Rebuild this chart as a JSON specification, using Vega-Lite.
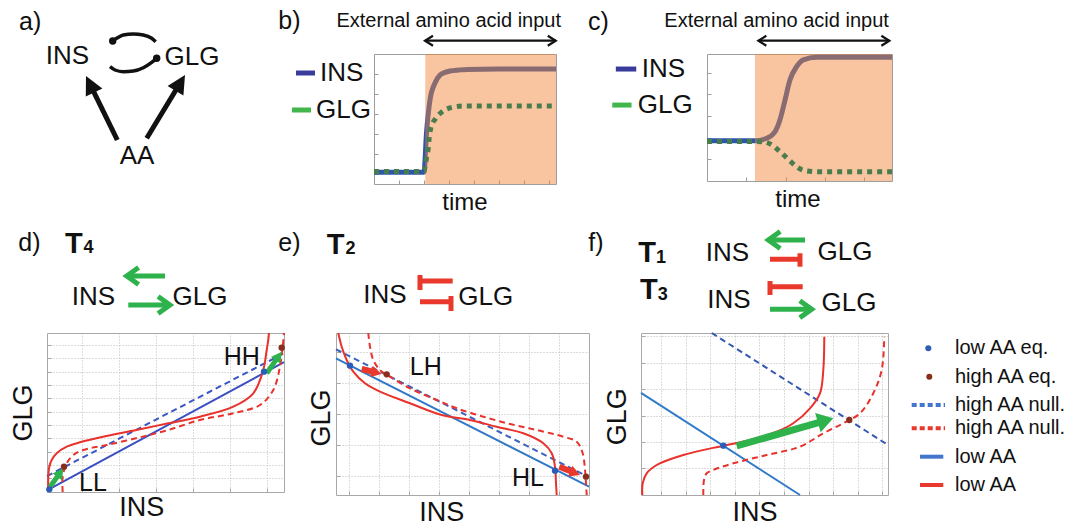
{
"$schema": "https://vega.github.io/schema/vega-lite/v6.json",
"padding": 0,
"background": "white",
"config": {"view": {"stroke": null}, "font": "Liberation Sans"},
"bounds": "flush",
"spacing": 333,
"vconcat": [
 {
  "bounds": "flush", "spacing": 151,
  "hconcat": [
   {
    "width": 223, "height": 184,
    "encoding": {
     "x": {"field": "x", "type": "quantitative", "scale": {"domain": [0, 11.15], "nice": false, "zero": false}, "axis": null},
     "y": {"field": "y", "type": "quantitative", "scale": {"domain": [0, 9.2], "nice": false, "zero": false}, "axis": null}
    },
    "layer": [
     {"data": {"values": [{"x": 0.95, "y": 8.1, "t": "a)"}]}, "mark": {"type": "text", "align": "left", "baseline": "middle", "fontSize": 25, "color": "#111"}, "encoding": {"text": {"field": "t", "type": "nominal"}}},
     {"data": {"values": [{"x": 3.375, "y": 6.425, "t": "INS"}, {"x": 9.6, "y": 6.35, "t": "GLG"}, {"x": 6.85, "y": 1.4, "t": "AA"}]}, "mark": {"type": "text", "align": "center", "baseline": "middle", "fontSize": 26, "color": "#111"}, "encoding": {"text": {"field": "t", "type": "nominal"}}},
     {"data": {"values": [
       {"g": "u", "i": 0, "x": 5.635, "y": 7.15}, {"g": "u", "i": 1, "x": 5.835, "y": 7.285}, {"g": "u", "i": 2, "x": 6.165, "y": 7.45}, {"g": "u", "i": 3, "x": 6.665, "y": 7.5}, {"g": "u", "i": 4, "x": 7.165, "y": 7.45}, {"g": "u", "i": 5, "x": 7.585, "y": 7.285}, {"g": "u", "i": 6, "x": 7.785, "y": 7.115},
       {"g": "l", "i": 0, "x": 5.5, "y": 5.865}, {"g": "l", "i": 1, "x": 5.75, "y": 5.7}, {"g": "l", "i": 2, "x": 6.165, "y": 5.615}, {"g": "l", "i": 3, "x": 6.665, "y": 5.65}, {"g": "l", "i": 4, "x": 7.165, "y": 5.815}, {"g": "l", "i": 5, "x": 7.585, "y": 6.085}, {"g": "l", "i": 6, "x": 7.835, "y": 6.285}]},
      "mark": {"type": "line", "interpolate": "monotone", "color": "#111", "strokeWidth": 3.5},
      "encoding": {"detail": {"field": "g", "type": "nominal"}, "order": {"field": "i", "type": "quantitative"}}},
     {"data": {"values": [{"x": 5.635, "y": 7.15}, {"x": 7.835, "y": 6.285}]}, "mark": {"type": "point", "filled": true, "color": "#111", "size": 55, "opacity": 1}},
     {"data": {"values": [{"x": 5.865, "y": 2.2, "x2": 4.565, "y2": 4.86}, {"x": 7.335, "y": 2.285, "x2": 8.94, "y2": 4.935}]}, "mark": {"type": "rule", "color": "#111", "strokeWidth": 5}, "encoding": {"x2": {"field": "x2"}, "y2": {"field": "y2"}}},
     {"data": {"values": [{"x": 4.3, "y": 5.4}]}, "mark": {"type": "point", "shape": "M0,0L-2,-1L-2,1Z", "filled": true, "color": "#111", "size": 340, "angle": -116, "opacity": 1}},
     {"data": {"values": [{"x": 9.25, "y": 5.45}]}, "mark": {"type": "point", "shape": "M0,0L-2,-1L-2,1Z", "filled": true, "color": "#111", "size": 340, "angle": -59, "opacity": 1}}
    ]
   },
   {"bounds": "flush", "spacing": 0, "vconcat": [
     {"width": 10, "height": 54, "data": {"values": []}, "mark": "point"},
     {"bounds": "flush", "spacing": 151, "hconcat": [
      {
       "width": 182, "height": 130,
       "view": {"stroke": "#9d9d9d"},
       "encoding": {
        "x": {"field": "x", "type": "quantitative", "scale": {"domain": [0, 7.28], "nice": false, "zero": false},
              "axis": {"values": [1,2,3,4,5,6,7], "labels": false, "title": null, "domain": false, "grid": false, "tickSize": -4, "tickColor": "#9d9d9d"}},
        "y": {"field": "y", "type": "quantitative", "scale": {"domain": [-0.5, 6], "nice": false, "zero": false},
              "axis": {"values": [0,1,2,3,4,5], "labels": false, "title": null, "domain": false, "grid": false, "tickSize": -4, "tickColor": "#9d9d9d"}}
       },
       "layer": [
        {"data": {"values": [{"i":0,"x":0,"y":0.09},{"i":1,"x":2.0,"y":0.09},{"i":2,"x":2.1,"y":2.05},{"i":3,"x":2.24,"y":3.7},{"i":4,"x":2.44,"y":4.55},{"i":5,"x":2.64,"y":4.95},{"i":6,"x":2.84,"y":5.08},{"i":7,"x":3.04,"y":5.15},{"i":8,"x":3.4,"y":5.2},{"i":9,"x":3.72,"y":5.23},{"i":10,"x":5,"y":5.25},{"i":11,"x":7.28,"y":5.25}]},
         "mark": {"type": "line", "interpolate": "monotone", "color": "#2c57a9", "strokeWidth": 5},
         "encoding": {"order": {"field": "i", "type": "quantitative"}}},
        {"data": {"values": [{"x": 2.05, "x2": 7.28, "y": -0.5, "y2": 6}]}, "mark": {"type": "rect", "color": "#f28235", "opacity": 0.47}, "encoding": {"x2": {"field": "x2"}, "y2": {"field": "y2"}}},
        {"data": {"values": [{"i":0,"x":0,"y":0.125},{"i":1,"x":2.0,"y":0.125},{"i":2,"x":2.04,"y":0.37},{"i":3,"x":2.11,"y":0.87},{"i":4,"x":2.17,"y":1.28},{"i":5,"x":2.21,"y":1.83},{"i":6,"x":2.28,"y":2.33},{"i":7,"x":2.47,"y":2.78},{"i":8,"x":2.71,"y":3.1},{"i":9,"x":3.11,"y":3.33},{"i":10,"x":3.56,"y":3.4},{"i":11,"x":7.28,"y":3.4}]},
         "mark": {"type": "line", "interpolate": "monotone", "color": "#4a7d4d", "strokeWidth": 5, "strokeDash": [5,5]},
         "encoding": {"order": {"field": "i", "type": "quantitative"}}},
        {"data": {"values": [{"x": -3.12, "x2": -2.36, "y": 5.05, "y2": 5.05}]}, "mark": {"type": "rule", "color": "#3a3c9c", "strokeWidth": 5}, "encoding": {"x2": {"field": "x2"}, "y2": {"field": "y2"}}},
        {"data": {"values": [{"x": -3.28, "x2": -2.52, "y": 3.2, "y2": 3.2}]}, "mark": {"type": "rule", "color": "#42b54b", "strokeWidth": 5}, "encoding": {"x2": {"field": "x2"}, "y2": {"field": "y2"}}},
        {"data": {"values": [{"x": -2.16, "y": 5.05, "t": "INS"}, {"x": -2.32, "y": 3.2, "t": "GLG"}]}, "mark": {"type": "text", "align": "left", "baseline": "middle", "fontSize": 26, "color": "#111"}, "encoding": {"text": {"field": "t", "type": "nominal"}}},
        {"data": {"values": [{"x": -3.83, "y": 7.65, "t": "b)"}]}, "mark": {"type": "text", "align": "left", "baseline": "middle", "fontSize": 25, "color": "#111"}, "encoding": {"text": {"field": "t", "type": "nominal"}}},
        {"data": {"values": [{"x": 2.99, "y": 7.66, "t": "External amino acid input"}]}, "mark": {"type": "text", "align": "center", "baseline": "middle", "fontSize": 20, "color": "#111"}, "encoding": {"text": {"field": "t", "type": "nominal"}}},
        {"data": {"values": [{"x": 2.04, "x2": 7.27, "y": 6.665, "y2": 6.665}]}, "mark": {"type": "rule", "color": "#111", "strokeWidth": 2.2}, "encoding": {"x2": {"field": "x2"}, "y2": {"field": "y2"}}},
        {"data": {"values": [{"x": 7.27, "y": 6.665}]}, "mark": {"type": "point", "shape": "M-1.6,-1L0,0L-1.6,1", "filled": false, "color": "#111", "strokeWidth": 2.2, "size": 100, "opacity": 1}},
        {"data": {"values": [{"x": 2.04, "y": 6.665}]}, "mark": {"type": "point", "shape": "M-1.6,-1L0,0L-1.6,1", "filled": false, "color": "#111", "strokeWidth": 2.2, "size": 100, "angle": 180, "opacity": 1}},
        {"data": {"values": [{"x": 3.64, "y": -1.45, "t": "time"}]}, "mark": {"type": "text", "align": "center", "baseline": "middle", "fontSize": 24, "color": "#111"}, "encoding": {"text": {"field": "t", "type": "nominal"}}}
       ]
      },
      {
       "width": 185, "height": 127,
       "view": {"stroke": "#9d9d9d"},
       "encoding": {
        "x": {"field": "x", "type": "quantitative", "scale": {"domain": [0, 4.707], "nice": false, "zero": false},
              "axis": {"values": [1,2,3,4], "labels": false, "title": null, "domain": false, "grid": false, "tickSize": -4, "tickColor": "#9d9d9d"}},
        "y": {"field": "y", "type": "quantitative", "scale": {"domain": [0, 5.853], "nice": false, "zero": false},
              "axis": {"values": [1,2,3,4,5], "labels": false, "title": null, "domain": false, "grid": false, "tickSize": -4, "tickColor": "#9d9d9d"}}
       },
       "layer": [
        {"data": {"values": [{"i":0,"x":0,"y":1.857},{"i":1,"x":1.22,"y":1.857},{"i":2,"x":1.52,"y":1.97},{"i":3,"x":1.73,"y":2.27},{"i":4,"x":1.855,"y":2.81},{"i":5,"x":1.985,"y":3.73},{"i":6,"x":2.11,"y":4.65},{"i":7,"x":2.28,"y":5.27},{"i":8,"x":2.45,"y":5.58},{"i":9,"x":2.79,"y":5.7},{"i":10,"x":4.707,"y":5.7}]},
         "mark": {"type": "line", "interpolate": "monotone", "color": "#2c57a9", "strokeWidth": 5},
         "encoding": {"order": {"field": "i", "type": "quantitative"}}},
        {"data": {"values": [{"x": 1.22, "x2": 4.707, "y": 0, "y2": 5.853}]}, "mark": {"type": "rect", "color": "#f28235", "opacity": 0.47}, "encoding": {"x2": {"field": "x2"}, "y2": {"field": "y2"}}},
        {"data": {"values": [{"i":0,"x":0,"y":1.82},{"i":1,"x":1.2,"y":1.82},{"i":2,"x":1.43,"y":1.81},{"i":3,"x":1.65,"y":1.66},{"i":4,"x":1.86,"y":1.35},{"i":5,"x":2.07,"y":1.0},{"i":6,"x":2.28,"y":0.66},{"i":7,"x":2.49,"y":0.475},{"i":8,"x":2.79,"y":0.43},{"i":9,"x":4.707,"y":0.43}]},
         "mark": {"type": "line", "interpolate": "monotone", "color": "#4a7d4d", "strokeWidth": 5, "strokeDash": [5,5]},
         "encoding": {"order": {"field": "i", "type": "quantitative"}}},
        {"data": {"values": [{"x": -2.32, "x2": -1.8, "y": 5.16, "y2": 5.16}]}, "mark": {"type": "rule", "color": "#3a3c9c", "strokeWidth": 5}, "encoding": {"x2": {"field": "x2"}, "y2": {"field": "y2"}}},
        {"data": {"values": [{"x": -2.41, "x2": -1.92, "y": 3.5, "y2": 3.5}]}, "mark": {"type": "rule", "color": "#42b54b", "strokeWidth": 5}, "encoding": {"x2": {"field": "x2"}, "y2": {"field": "y2"}}},
        {"data": {"values": [{"x": -1.66, "y": 5.16, "t": "INS"}, {"x": -1.76, "y": 3.5, "t": "GLG"}]}, "mark": {"type": "text", "align": "left", "baseline": "middle", "fontSize": 26, "color": "#111"}, "encoding": {"text": {"field": "t", "type": "nominal"}}},
        {"data": {"values": [{"x": -3.03, "y": 7.33, "t": "c)"}]}, "mark": {"type": "text", "align": "left", "baseline": "middle", "fontSize": 25, "color": "#111"}, "encoding": {"text": {"field": "t", "type": "nominal"}}},
        {"data": {"values": [{"x": 1.77, "y": 7.38, "t": "External amino acid input"}]}, "mark": {"type": "text", "align": "center", "baseline": "middle", "fontSize": 20, "color": "#111"}, "encoding": {"text": {"field": "t", "type": "nominal"}}},
        {"data": {"values": [{"x": 1.306, "x2": 4.64, "y": 6.465, "y2": 6.465}]}, "mark": {"type": "rule", "color": "#111", "strokeWidth": 2.2}, "encoding": {"x2": {"field": "x2"}, "y2": {"field": "y2"}}},
        {"data": {"values": [{"x": 4.64, "y": 6.465}]}, "mark": {"type": "point", "shape": "M-1.6,-1L0,0L-1.6,1", "filled": false, "color": "#111", "strokeWidth": 2.2, "size": 100, "opacity": 1}},
        {"data": {"values": [{"x": 1.306, "y": 6.465}]}, "mark": {"type": "point", "shape": "M-1.6,-1L0,0L-1.6,1", "filled": false, "color": "#111", "strokeWidth": 2.2, "size": 100, "angle": 180, "opacity": 1}},
        {"data": {"values": [{"x": 2.315, "y": -0.876, "t": "time"}]}, "mark": {"type": "text", "align": "center", "baseline": "middle", "fontSize": 24, "color": "#111"}, "encoding": {"text": {"field": "t", "type": "nominal"}}}
       ]
      }
     ]}
   ]}
  ]
 },
 {
  "bounds": "flush", "spacing": 0,
  "hconcat": [
   {"width": 47, "height": 162, "data": {"values": []}, "mark": "point"},
   {"bounds": "flush", "spacing": 52, "hconcat": [
    {
     "width": 237, "height": 159,
     "view": {"stroke": "#a8a8a8"},
     "encoding": {
      "x": {"field": "x", "type": "quantitative", "scale": {"domain": [-0.938, 5.468], "nice": false, "zero": false},
            "axis": {"values": [0,1,2,3,4,5], "grid": true, "gridDash": [1,2], "gridColor": "#bbbbbb", "labels": false, "title": null, "domain": false, "tickSize": -4, "tickColor": "#a8a8a8"}},
      "y": {"field": "y", "type": "quantitative", "scale": {"domain": [-1.028, 10.9], "nice": false, "zero": false},
            "axis": {"values": [0,1,2,3,4,5,6,7,8,9,10], "grid": true, "gridDash": [1,2], "gridColor": "#bbbbbb", "labels": false, "title": null, "domain": false, "tickSize": -4, "tickColor": "#a8a8a8"}}
     },
     "layer": [
      {"data": {"values": [{"x": -0.938, "y": -0.9, "x2": 5.468, "y2": 8.71}]}, "mark": {"type": "rule", "color": "#3a4fc2", "strokeWidth": 2}, "encoding": {"x2": {"field": "x2"}, "y2": {"field": "y2"}}},
      {"data": {"values": [{"x": -0.938, "y": 0.17, "x2": 5.468, "y2": 9.38}]}, "mark": {"type": "rule", "color": "#3a55c4", "strokeWidth": 2, "strokeDash": [6,4]}, "encoding": {"x2": {"field": "x2"}, "y2": {"field": "y2"}}},
      {"data": {"values": [{"i":0,"x":-0.903,"y":-1.028},{"i":1,"x":-0.903,"y":0.12},{"i":2,"x":-0.876,"y":0.87},{"i":3,"x":-0.811,"y":1.373},{"i":4,"x":-0.676,"y":1.876},{"i":5,"x":-0.405,"y":2.37},{"i":6,"x":-0.046,"y":2.7},{"i":7,"x":0.676,"y":3.173},{"i":8,"x":1.576,"y":3.676},{"i":9,"x":2.34,"y":4.126},{"i":10,"x":3.195,"y":4.62},{"i":11,"x":4.097,"y":5.371},{"i":12,"x":4.638,"y":6.377},{"i":13,"x":4.908,"y":8.125},{"i":14,"x":5.0,"y":9.625},{"i":15,"x":5.043,"y":10.375},{"i":16,"x":5.062,"y":10.9}]},
       "mark": {"type": "line", "interpolate": "catmull-rom", "color": "#e8322b", "strokeWidth": 2},
       "encoding": {"order": {"field": "i", "type": "quantitative"}}},
      {"data": {"values": [{"i":0,"x":-0.514,"y":-1.028},{"i":1,"x":-0.514,"y":0.12},{"i":2,"x":-0.405,"y":1.125},{"i":3,"x":-0.227,"y":1.748},{"i":4,"x":0.043,"y":2.123},{"i":5,"x":0.676,"y":2.498},{"i":6,"x":1.576,"y":3.076},{"i":7,"x":2.34,"y":3.623},{"i":8,"x":3.195,"y":4.374},{"i":9,"x":4.097,"y":4.876},{"i":10,"x":4.819,"y":5.499},{"i":11,"x":5.178,"y":6.624},{"i":12,"x":5.359,"y":8.372},{"i":13,"x":5.432,"y":9.872},{"i":14,"x":5.468,"y":10.9}]},
       "mark": {"type": "line", "interpolate": "catmull-rom", "color": "#e8322b", "strokeWidth": 2, "strokeDash": [6,4]},
       "encoding": {"order": {"field": "i", "type": "quantitative"}}},
      {"data": {"values": [{"x": -0.857, "y": -0.63, "x2": -0.592, "y2": 0.383}, {"x": 5.0, "y": 7.877, "x2": 5.314, "y2": 9.13}]}, "mark": {"type": "rule", "color": "#2eb24c", "strokeWidth": 5}, "encoding": {"x2": {"field": "x2"}, "y2": {"field": "y2"}}},
      {"data": {"values": [{"x": -0.497, "y": 0.75}, {"x": 5.405, "y": 9.497}]}, "mark": {"type": "point", "shape": "M0,0L-2,-1.1L-2,1.1Z", "filled": true, "color": "#2eb24c", "size": 110, "angle": -55, "opacity": 1}},
      {"data": {"values": [{"x": -0.876, "y": -0.825}, {"x": 4.927, "y": 7.997}]}, "mark": {"type": "point", "filled": true, "color": "#2d5cb8", "size": 40, "opacity": 1}},
      {"data": {"values": [{"x": -0.478, "y": 0.87}, {"x": 5.405, "y": 9.797}]}, "mark": {"type": "point", "filled": true, "color": "#8a2d1c", "size": 40, "opacity": 1}},
      {"data": {"values": [{"x": 0.305, "y": -0.375, "t": "LL"}, {"x": 4.324, "y": 9.12, "t": "HH"}]}, "mark": {"type": "text", "align": "center", "baseline": "middle", "fontSize": 25, "color": "#111"}, "encoding": {"text": {"field": "t", "type": "nominal"}}},
      {"data": {"values": [{"x": -1.56, "y": 4.9, "t": "GLG"}]}, "mark": {"type": "text", "align": "center", "baseline": "middle", "fontSize": 27, "angle": 270, "color": "#111"}, "encoding": {"text": {"field": "t", "type": "nominal"}}},
      {"data": {"values": [{"x": 1.62, "y": -2.23, "t": "INS"}]}, "mark": {"type": "text", "align": "center", "baseline": "middle", "fontSize": 27, "color": "#111"}, "encoding": {"text": {"field": "t", "type": "nominal"}}},
      {"data": {"values": [{"x": -1.714, "y": 17.65, "t": "d)"}]}, "mark": {"type": "text", "align": "left", "baseline": "middle", "fontSize": 25, "color": "#111"}, "encoding": {"text": {"field": "t", "type": "nominal"}}},
      {"data": {"values": [{"x": -0.451, "y": 17.56, "t": "T"}]}, "mark": {"type": "text", "align": "left", "baseline": "middle", "fontSize": 29, "fontWeight": "bold", "color": "#111"}, "encoding": {"text": {"field": "t", "type": "nominal"}}},
      {"data": {"values": [{"x": 0.05, "y": 17.3, "t": "4"}]}, "mark": {"type": "text", "align": "left", "baseline": "middle", "fontSize": 18, "fontWeight": "bold", "color": "#111"}, "encoding": {"text": {"field": "t", "type": "nominal"}}},
      {"data": {"values": [{"x": 0.315, "y": 13.62, "t": "INS"}, {"x": 3.197, "y": 13.62, "t": "GLG"}]}, "mark": {"type": "text", "align": "center", "baseline": "middle", "fontSize": 26, "color": "#111"}, "encoding": {"text": {"field": "t", "type": "nominal"}}},
      {"data": {"values": [{"x": 2.251, "y": 15.18, "x2": 1.27, "y2": 15.18}, {"x": 1.259, "y": 13.0, "x2": 2.33, "y2": 13.0}]}, "mark": {"type": "rule", "color": "#2eb24c", "strokeWidth": 5}, "encoding": {"x2": {"field": "x2"}, "y2": {"field": "y2"}}},
      {"data": {"values": [{"x": 2.386, "y": 13.0}]}, "mark": {"type": "point", "shape": "M-1.4,-1L0,0L-1.4,1", "filled": false, "color": "#2eb24c", "strokeWidth": 5, "size": 289, "opacity": 1}},
      {"data": {"values": [{"x": 1.216, "y": 15.18}]}, "mark": {"type": "point", "shape": "M-1.4,-1L0,0L-1.4,1", "filled": false, "color": "#2eb24c", "strokeWidth": 5, "size": 289, "angle": 180, "opacity": 1}}
     ]
    },
    {
     "width": 253, "height": 162,
     "view": {"stroke": "#a8a8a8"},
     "encoding": {
      "x": {"field": "x", "type": "quantitative", "scale": {"domain": [-0.443, 7.99], "nice": false, "zero": false},
            "axis": {"values": [0,1,2,3,4,5,6,7], "grid": true, "gridDash": [1,2], "gridColor": "#bbbbbb", "labels": false, "title": null, "domain": false, "tickSize": -4, "tickColor": "#a8a8a8"}},
      "y": {"field": "y", "type": "quantitative", "scale": {"domain": [-0.613, 4.613], "nice": false, "zero": false},
            "axis": {"values": [0,1,2,3,4], "grid": true, "gridDash": [1,2], "gridColor": "#bbbbbb", "labels": false, "title": null, "domain": false, "tickSize": -4, "tickColor": "#a8a8a8"}}
     },
     "layer": [
      {"data": {"values": [{"x": -0.443, "y": 3.797, "x2": 7.99, "y2": -0.345}]}, "mark": {"type": "rule", "color": "#2f78c8", "strokeWidth": 2}, "encoding": {"x2": {"field": "x2"}, "y2": {"field": "y2"}}},
      {"data": {"values": [{"x": -0.443, "y": 4.087, "x2": 7.99, "y2": -0.04}]}, "mark": {"type": "rule", "color": "#3a62c0", "strokeWidth": 2, "strokeDash": [6,4]}, "encoding": {"x2": {"field": "x2"}, "y2": {"field": "y2"}}},
      {"data": {"values": [{"i":0,"x":-0.367,"y":4.613},{"i":1,"x":-0.253,"y":4.171},{"i":2,"x":-0.087,"y":3.742},{"i":3,"x":0.133,"y":3.365},{"i":4,"x":0.523,"y":2.99},{"i":5,"x":1.023,"y":2.719},{"i":6,"x":2.023,"y":2.345},{"i":7,"x":3.08,"y":1.968},{"i":8,"x":4.023,"y":1.806},{"i":9,"x":4.913,"y":1.59},{"i":10,"x":5.8,"y":1.377},{"i":11,"x":6.467,"y":1.055},{"i":12,"x":6.747,"y":0.732},{"i":13,"x":6.857,"y":0.3},{"i":14,"x":6.89,"y":-0.235},{"i":15,"x":6.913,"y":-0.613}]},
       "mark": {"type": "line", "interpolate": "catmull-rom", "color": "#e8322b", "strokeWidth": 2},
       "encoding": {"order": {"field": "i", "type": "quantitative"}}},
      {"data": {"values": [{"i":0,"x":0.633,"y":4.613},{"i":1,"x":0.69,"y":4.171},{"i":2,"x":0.8,"y":3.742},{"i":3,"x":1.023,"y":3.419},{"i":4,"x":1.357,"y":3.203},{"i":5,"x":2.023,"y":2.829},{"i":6,"x":2.913,"y":2.452},{"i":7,"x":3.58,"y":2.184},{"i":8,"x":4.467,"y":1.913},{"i":9,"x":5.357,"y":1.677},{"i":10,"x":6.247,"y":1.484},{"i":11,"x":7.133,"y":1.268},{"i":12,"x":7.58,"y":1.106},{"i":13,"x":7.78,"y":0.732},{"i":14,"x":7.857,"y":0.194},{"i":15,"x":7.89,"y":-0.235},{"i":16,"x":7.913,"y":-0.613}]},
       "mark": {"type": "line", "interpolate": "catmull-rom", "color": "#e8322b", "strokeWidth": 2, "strokeDash": [6,4]},
       "encoding": {"order": {"field": "i", "type": "quantitative"}}},
      {"data": {"values": [{"x": 0.413, "y": 3.452, "x2": 0.887, "y2": 3.339}, {"x": 7.0, "y": 0.3, "x2": 7.503, "y2": 0.103}]}, "mark": {"type": "rule", "color": "#e8392c", "strokeWidth": 6}, "encoding": {"x2": {"field": "x2"}, "y2": {"field": "y2"}}},
      {"data": {"values": [{"x": 1.08, "y": 3.29}]}, "mark": {"type": "point", "shape": "M0,0L-2,-1.1L-2,1.1Z", "filled": true, "color": "#e8392c", "size": 110, "angle": 14, "opacity": 1}},
      {"data": {"values": [{"x": 7.69, "y": 0.032}]}, "mark": {"type": "point", "shape": "M0,0L-2,-1.1L-2,1.1Z", "filled": true, "color": "#e8392c", "size": 110, "angle": 22, "opacity": 1}},
      {"data": {"values": [{"x": 0.023, "y": 3.558}, {"x": 6.857, "y": 0.171}]}, "mark": {"type": "point", "filled": true, "color": "#2d5cb8", "size": 40, "opacity": 1}},
      {"data": {"values": [{"x": 1.247, "y": 3.281}, {"x": 7.89, "y": -0.023}]}, "mark": {"type": "point", "filled": true, "color": "#8a2d1c", "size": 40, "opacity": 1}},
      {"data": {"values": [{"x": 2.55, "y": 3.526, "t": "LH"}, {"x": 5.957, "y": -0.065, "t": "HL"}]}, "mark": {"type": "text", "align": "center", "baseline": "middle", "fontSize": 25, "color": "#111"}, "encoding": {"text": {"field": "t", "type": "nominal"}}},
      {"data": {"values": [{"x": -0.91, "y": 1.87, "t": "GLG"}]}, "mark": {"type": "text", "align": "center", "baseline": "middle", "fontSize": 27, "angle": 270, "color": "#111"}, "encoding": {"text": {"field": "t", "type": "nominal"}}},
      {"data": {"values": [{"x": 3.08, "y": -1.19, "t": "INS"}]}, "mark": {"type": "text", "align": "center", "baseline": "middle", "fontSize": 27, "color": "#111"}, "encoding": {"text": {"field": "t", "type": "nominal"}}},
      {"data": {"values": [{"x": -2.367, "y": 7.516, "t": "e)"}]}, "mark": {"type": "text", "align": "left", "baseline": "middle", "fontSize": 25, "color": "#111"}, "encoding": {"text": {"field": "t", "type": "nominal"}}},
      {"data": {"values": [{"x": -0.753, "y": 7.45, "t": "T"}]}, "mark": {"type": "text", "align": "left", "baseline": "middle", "fontSize": 29, "fontWeight": "bold", "color": "#111"}, "encoding": {"text": {"field": "t", "type": "nominal"}}},
      {"data": {"values": [{"x": -0.13, "y": 7.32, "t": "2"}]}, "mark": {"type": "text", "align": "left", "baseline": "middle", "fontSize": 18, "fontWeight": "bold", "color": "#111"}, "encoding": {"text": {"field": "t", "type": "nominal"}}},
      {"data": {"values": [{"x": 1.19, "y": 5.839, "t": "INS"}, {"x": 4.55, "y": 5.784, "t": "GLG"}]}, "mark": {"type": "text", "align": "center", "baseline": "middle", "fontSize": 26, "color": "#111"}, "encoding": {"text": {"field": "t", "type": "nominal"}}},
      {"data": {"values": [{"x": 2.3, "y": 6.29, "x2": 3.447, "y2": 6.29}, {"x": 2.356, "y": 6.0, "x2": 2.356, "y2": 6.484}, {"x": 2.356, "y": 5.623, "x2": 3.413, "y2": 5.623}, {"x": 3.39, "y": 5.323, "x2": 3.39, "y2": 5.806}]}, "mark": {"type": "rule", "color": "#e8392c", "strokeWidth": 5}, "encoding": {"x2": {"field": "x2"}, "y2": {"field": "y2"}}}
     ]
    },
    {
     "width": 247, "height": 162,
     "view": {"stroke": "#a8a8a8"},
     "encoding": {
      "x": {"field": "x", "type": "quantitative", "scale": {"domain": [-0.813, 9.228], "nice": false, "zero": false},
            "axis": {"values": [0,1,2,3,4,5,6,7,8,9], "grid": true, "gridDash": [1,2], "gridColor": "#bbbbbb", "labels": false, "title": null, "domain": false, "tickSize": -4, "tickColor": "#a8a8a8"}},
      "y": {"field": "y", "type": "quantitative", "scale": {"domain": [-1.011, 5.125], "nice": false, "zero": false},
            "axis": {"values": [0,1,2,3,4,5], "grid": true, "gridDash": [1,2], "gridColor": "#bbbbbb", "labels": false, "title": null, "domain": false, "tickSize": -4, "tickColor": "#a8a8a8"}}
     },
     "layer": [
      {"data": {"values": [{"x": -0.813, "y": 2.858, "x2": 5.65, "y2": -1.011}]}, "mark": {"type": "rule", "color": "#2f7ac9", "strokeWidth": 2}, "encoding": {"x2": {"field": "x2"}, "y2": {"field": "y2"}}},
      {"data": {"values": [{"x": 2.061, "y": 5.125, "x2": 9.228, "y2": 0.883}]}, "mark": {"type": "rule", "color": "#3557b4", "strokeWidth": 2, "strokeDash": [6,4]}, "encoding": {"x2": {"field": "x2"}, "y2": {"field": "y2"}}},
      {"data": {"values": [{"i":0,"x":-0.76,"y":-1.011},{"i":1,"x":-0.744,"y":-0.568},{"i":2,"x":-0.581,"y":-0.189},{"i":3,"x":-0.175,"y":0.125},{"i":4,"x":0.907,"y":0.504},{"i":5,"x":2.533,"y":0.856},{"i":6,"x":3.618,"y":1.072},{"i":7,"x":4.703,"y":1.386},{"i":8,"x":5.378,"y":1.705},{"i":9,"x":6.057,"y":2.273},{"i":10,"x":6.463,"y":2.841},{"i":11,"x":6.598,"y":3.723},{"i":12,"x":6.638,"y":4.985}]},
       "mark": {"type": "line", "interpolate": "catmull-rom", "color": "#e8322b", "strokeWidth": 2},
       "encoding": {"order": {"field": "i", "type": "quantitative"}}},
      {"data": {"values": [{"i":0,"x":1.72,"y":-1.011},{"i":1,"x":1.748,"y":-0.443},{"i":2,"x":1.858,"y":-0.189},{"i":3,"x":2.126,"y":-0.064},{"i":4,"x":2.939,"y":0.189},{"i":5,"x":4.297,"y":0.504},{"i":6,"x":5.65,"y":0.818},{"i":7,"x":6.598,"y":1.326},{"i":8,"x":7.411,"y":1.705},{"i":9,"x":8.089,"y":2.083},{"i":10,"x":8.63,"y":2.841},{"i":11,"x":8.972,"y":3.723},{"i":12,"x":9.077,"y":4.985}]},
       "mark": {"type": "line", "interpolate": "catmull-rom", "color": "#e8322b", "strokeWidth": 2, "strokeDash": [6,4]},
       "encoding": {"order": {"field": "i", "type": "quantitative"}}},
      {"data": {"values": [{"x": 3.077, "y": 0.845, "x2": 6.614, "y2": 1.788}]}, "mark": {"type": "rule", "color": "#2eb24c", "strokeWidth": 7}, "encoding": {"x2": {"field": "x2"}, "y2": {"field": "y2"}}},
      {"data": {"values": [{"x": 7.004, "y": 1.894}]}, "mark": {"type": "point", "shape": "M0,0L-2,-1.25L-2,1.25Z", "filled": true, "color": "#2eb24c", "size": 256, "angle": -16, "opacity": 1}},
      {"data": {"values": [{"x": 2.533, "y": 0.856}]}, "mark": {"type": "point", "filled": true, "color": "#2d5cb8", "size": 40, "opacity": 1}},
      {"data": {"values": [{"x": 7.654, "y": 1.83}]}, "mark": {"type": "point", "filled": true, "color": "#8a2d1c", "size": 40, "opacity": 1}},
      {"data": {"values": [{"x": -1.768, "y": 1.955, "t": "GLG"}]}, "mark": {"type": "text", "align": "center", "baseline": "middle", "fontSize": 27, "angle": 270, "color": "#111"}, "encoding": {"text": {"field": "t", "type": "nominal"}}},
      {"data": {"values": [{"x": 3.82, "y": -1.693, "t": "INS"}]}, "mark": {"type": "text", "align": "center", "baseline": "middle", "fontSize": 27, "color": "#111"}, "encoding": {"text": {"field": "t", "type": "nominal"}}},
      {"data": {"values": [{"x": -2.955, "y": 8.534, "t": "f)"}]}, "mark": {"type": "text", "align": "left", "baseline": "middle", "fontSize": 25, "color": "#111"}, "encoding": {"text": {"field": "t", "type": "nominal"}}},
      {"data": {"values": [{"x": -0.923, "y": 8.144, "t": "T"}, {"x": -0.854, "y": 6.754, "t": "T"}]}, "mark": {"type": "text", "align": "left", "baseline": "middle", "fontSize": 29, "fontWeight": "bold", "color": "#111"}, "encoding": {"text": {"field": "t", "type": "nominal"}}},
      {"data": {"values": [{"x": -0.2, "y": 7.97, "t": "1"}, {"x": -0.13, "y": 6.58, "t": "3"}]}, "mark": {"type": "text", "align": "left", "baseline": "middle", "fontSize": 18, "fontWeight": "bold", "color": "#111"}, "encoding": {"text": {"field": "t", "type": "nominal"}}},
      {"data": {"values": [{"x": 2.703, "y": 8.144, "t": "INS"}, {"x": 7.48, "y": 8.205, "t": "GLG"}, {"x": 2.764, "y": 6.375, "t": "INS"}, {"x": 7.642, "y": 6.25, "t": "GLG"}]}, "mark": {"type": "text", "align": "center", "baseline": "middle", "fontSize": 26, "color": "#111"}, "encoding": {"text": {"field": "t", "type": "nominal"}}},
      {"data": {"values": [{"x": 5.854, "y": 8.648, "x2": 4.44, "y2": 8.648}, {"x": 4.431, "y": 6.023, "x2": 6.05, "y2": 6.023}]}, "mark": {"type": "rule", "color": "#2eb24c", "strokeWidth": 5}, "encoding": {"x2": {"field": "x2"}, "y2": {"field": "y2"}}},
      {"data": {"values": [{"x": 6.126, "y": 6.023}]}, "mark": {"type": "point", "shape": "M-1.4,-1L0,0L-1.4,1", "filled": false, "color": "#2eb24c", "strokeWidth": 5, "size": 289, "opacity": 1}},
      {"data": {"values": [{"x": 4.362, "y": 8.648}]}, "mark": {"type": "point", "shape": "M-1.4,-1L0,0L-1.4,1", "filled": false, "color": "#2eb24c", "strokeWidth": 5, "size": 289, "angle": 180, "opacity": 1}},
      {"data": {"values": [{"x": 4.431, "y": 7.917, "x2": 5.72, "y2": 7.917}, {"x": 5.65, "y": 7.636, "x2": 5.65, "y2": 8.144}, {"x": 4.362, "y": 6.879, "x2": 5.76, "y2": 6.879}, {"x": 4.431, "y": 6.564, "x2": 4.431, "y2": 7.095}]}, "mark": {"type": "rule", "color": "#e8392c", "strokeWidth": 5}, "encoding": {"x2": {"field": "x2"}, "y2": {"field": "y2"}}}
     ]
    },
    {
     "width": 140, "height": 162,
     "encoding": {
      "x": {"field": "x", "type": "quantitative", "scale": {"domain": [0, 7], "nice": false, "zero": false}, "axis": null},
      "y": {"field": "y", "type": "quantitative", "scale": {"domain": [0, 8.1], "nice": false, "zero": false}, "axis": null}
     },
     "layer": [
      {"data": {"values": [{"x": -0.585, "y": 7.335}]}, "mark": {"type": "point", "filled": true, "color": "#2f5cb5", "size": 36, "opacity": 1}},
      {"data": {"values": [{"x": -0.535, "y": 5.915}]}, "mark": {"type": "point", "filled": true, "color": "#8a2d18", "size": 36, "opacity": 1}},
      {"data": {"values": [{"x": -1.415, "x2": 0.25, "y": 4.5, "y2": 4.5}]}, "mark": {"type": "rule", "color": "#4477cc", "strokeWidth": 4, "strokeDash": [5,3]}, "encoding": {"x2": {"field": "x2"}, "y2": {"field": "y2"}}},
      {"data": {"values": [{"x": -1.415, "x2": 0.25, "y": 3.335, "y2": 3.335}]}, "mark": {"type": "rule", "color": "#e8392c", "strokeWidth": 4, "strokeDash": [5,3]}, "encoding": {"x2": {"field": "x2"}, "y2": {"field": "y2"}}},
      {"data": {"values": [{"x": -1.0, "x2": 0.165, "y": 1.915, "y2": 1.915}]}, "mark": {"type": "rule", "color": "#4477cc", "strokeWidth": 4}, "encoding": {"x2": {"field": "x2"}, "y2": {"field": "y2"}}},
      {"data": {"values": [{"x": -1.0, "x2": 0.165, "y": 0.5, "y2": 0.5}]}, "mark": {"type": "rule", "color": "#e8392c", "strokeWidth": 4}, "encoding": {"x2": {"field": "x2"}, "y2": {"field": "y2"}}},
      {"data": {"values": [{"x": 0.75, "y": 7.335, "t": "low AA eq."}, {"x": 0.75, "y": 5.915, "t": "high AA eq."}, {"x": 0.75, "y": 4.5, "t": "high AA null."}, {"x": 0.75, "y": 3.335, "t": "high AA null."}, {"x": 0.75, "y": 1.915, "t": "low AA"}, {"x": 0.75, "y": 0.5, "t": "low AA"}]}, "mark": {"type": "text", "align": "left", "baseline": "middle", "fontSize": 20, "color": "#111"}, "encoding": {"text": {"field": "t", "type": "nominal"}}}
     ]
    }
   ]}
  ]
 }
]
}
